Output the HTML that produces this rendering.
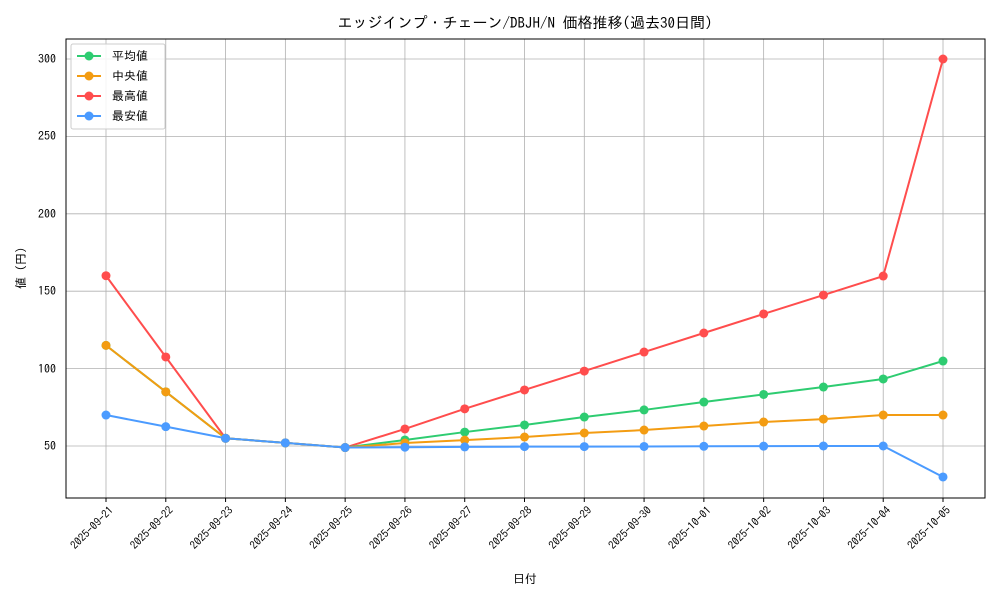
<!DOCTYPE html>
<html><head><meta charset="utf-8"><style>
body{margin:0;background:#fff}
svg text{font-family:"IPAGothic","Noto Sans CJK JP",sans-serif;fill:#000}
</style></head><body>
<svg id="s" width="1000" height="600" xmlns="http://www.w3.org/2000/svg">
<rect width="1000" height="600" fill="#fff"/>
<g id="grid" stroke="#b0b0b0" stroke-width="0.8"></g>
<rect x="66" y="39" width="919" height="459" fill="none" stroke="#000" stroke-width="1"/>
<text x="525" y="28" font-size="15" text-anchor="middle">エッジインプ・チェーン/DBJH/N 価格推移(過去30日間)</text>
<g font-size="12" text-anchor="end">
<text x="56" y="450">50</text><text x="56" y="373">100</text><text x="56" y="295">150</text>
<text x="56" y="218">200</text><text x="56" y="140">250</text><text x="56" y="63">300</text>
</g>
<text transform="translate(25,268) rotate(-90)" font-size="12" text-anchor="middle">値 (円)</text>
<text x="525" y="583" font-size="12" text-anchor="middle">日付</text>
<g id="xl" font-size="11" text-anchor="end"></g>
<g id="series"></g>
<g>
<rect x="71" y="44" width="94" height="85" fill="#fff" fill-opacity="0.85" stroke="#ccc" rx="2"/>
<line x1="77" y1="56" x2="101" y2="56" stroke="#2ecc71" stroke-width="2"/><circle cx="89" cy="56" r="4.5" fill="#2ecc71"/>
<text x="112" y="60" font-size="12">平均値</text>
<line x1="77" y1="76" x2="101" y2="76" stroke="#f39c12" stroke-width="2"/><circle cx="89" cy="76" r="4.5" fill="#f39c12"/>
<text x="112" y="80" font-size="12">中央値</text>
<line x1="77" y1="96" x2="101" y2="96" stroke="#ff4d4d" stroke-width="2"/><circle cx="89" cy="96" r="4.5" fill="#ff4d4d"/>
<text x="112" y="100" font-size="12">最高値</text>
<line x1="77" y1="116" x2="101" y2="116" stroke="#4b9bff" stroke-width="2"/><circle cx="89" cy="116" r="4.5" fill="#4b9bff"/>
<text x="112" y="120" font-size="12">最安値</text>
</g>
</svg>
<script>
function X(i){return 106+i*59.786}
function Y(v){return 446-(v-50)*1.548}
var g=document.getElementById("grid"),h="";
for(var i=0;i<15;i++){h+='<line x1="'+X(i)+'" y1="39" x2="'+X(i)+'" y2="498"/>';}
[50,100,150,200,250,300].forEach(function(v){h+='<line x1="66" y1="'+Y(v)+'" x2="985" y2="'+Y(v)+'"/>';});
g.innerHTML=h;
var labels=["2025-09-21","2025-09-22","2025-09-23","2025-09-24","2025-09-25","2025-09-26","2025-09-27","2025-09-28","2025-09-29","2025-09-30","2025-10-01","2025-10-02","2025-10-03","2025-10-04","2025-10-05"];
var xl=document.getElementById("xl"),t="";
labels.forEach(function(l,i){var x=X(i)+8,y=511;t+='<line x1="'+X(i)+'" y1="498" x2="'+X(i)+'" y2="502" stroke="#000"/><text transform="translate('+x+','+y+') rotate(-45)">'+l+'</text>';});
xl.innerHTML=t;
var S=[
["#ff4d4d",[160,107.5,55,52,49,61,74,86.2,98.4,110.7,123,135.3,147.5,159.8,300]],
["#2ecc71",[115,85,55,52,49,53.9,59,63.6,68.7,73.3,78.4,83.3,88.1,93.3,104.9]],
["#f39c12",[115,85,55,52,49,51.9,53.8,55.8,58.4,60.3,62.9,65.5,67.4,70,70]],
["#4b9bff",[70,62.5,55,52,49,49.2,49.4,49.6,49.6,49.7,49.8,49.9,50,50,30]]];
var s="";
S.forEach(function(d){var p=d[1].map(function(v,i){return X(i)+","+Y(v)}).join(" ");
s+='<polyline points="'+p+'" fill="none" stroke="'+d[0]+'" stroke-width="2"/>';
d[1].forEach(function(v,i){s+='<circle cx="'+X(i)+'" cy="'+Y(v)+'" r="4.5" fill="'+d[0]+'"/>';});});
document.getElementById("series").innerHTML=s;
</script>
</body></html>
